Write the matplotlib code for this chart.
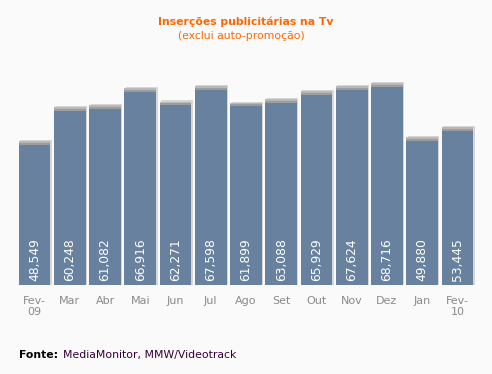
import matplotlib.pyplot as plt

months = ["Fev-\n09", "Mar", "Abr", "Mai", "Jun", "Jul", "Ago",
          "Set", "Out", "Nov", "Dez", "Jan", "Fev-\n10"]
values = [48549, 60248, 61082, 66916, 62271, 67598, 61899,
          63088, 65929, 67624, 68716, 49880, 53445]
labels = ["48,549", "60,248", "61,082", "66,916", "62,271", "67,598", "61,899",
          "63,088", "65,929", "67,624", "68,716", "49,880", "53,445"]

bg = "#fafafa"
bar_color = "#67819f"
orange = "#ff6600"

fig = plt.figure(figsize=(4.92, 3.74), dpi=100, facecolor=bg)
ax = fig.add_axes([17 / 492, 1 - 285 / 374, 458 / 492, 225 / 374])
ax.set_facecolor(bg)

x = list(range(len(values)))
w = 0.9

# soft shadow layers behind each bar (top band + right edge)
ax.bar([i + 0.04 for i in x], [v + 1700 for v in values], width=w,
       color="#d6d6d6", zorder=1)
ax.bar(x, [v + 1300 for v in values], width=w, color="#b8b8b8", zorder=2)
ax.bar(x, [v + 700 for v in values], width=w, color="#9c9c9c", zorder=3)
ax.bar(x, values, width=w, color=bar_color, zorder=4)

for i, lab in enumerate(labels):
    ax.annotate(lab, (i, 0), xytext=(0, 3), textcoords="offset points",
                rotation=90, ha="center", va="bottom", color="white",
                fontsize=8.8, zorder=5)

ax.set_xlim(-0.5, len(values) - 0.5)
ax.set_ylim(0, 78000)
ax.set_xticks(x)
ax.set_xticklabels(months, color="#8a8a8a", fontsize=8, linespacing=1.1)
ax.tick_params(axis="x", length=0, pad=8)
ax.set_yticks([])
for s in ax.spines.values():
    s.set_visible(False)

fig.text(0.5, 1 - 22 / 374, "Inserções publicitárias na Tv", color=orange,
         fontsize=7.8, fontweight="bold", ha="center", va="center")
fig.text(0.49, 1 - 36 / 374, "(exclui auto-promoção)", color=orange,
         fontsize=7.8, ha="center", va="center")

fig.text(19 / 492, 1 - 355 / 374, "Fonte:", color="black", fontsize=7.8,
         fontweight="bold", ha="left", va="center")
fig.text(63 / 492, 1 - 355 / 374, "MediaMonitor, MMW/Videotrack",
         color="#330033", fontsize=7.8, ha="left", va="center")

fig.savefig("out.png", dpi=100, facecolor=bg)
